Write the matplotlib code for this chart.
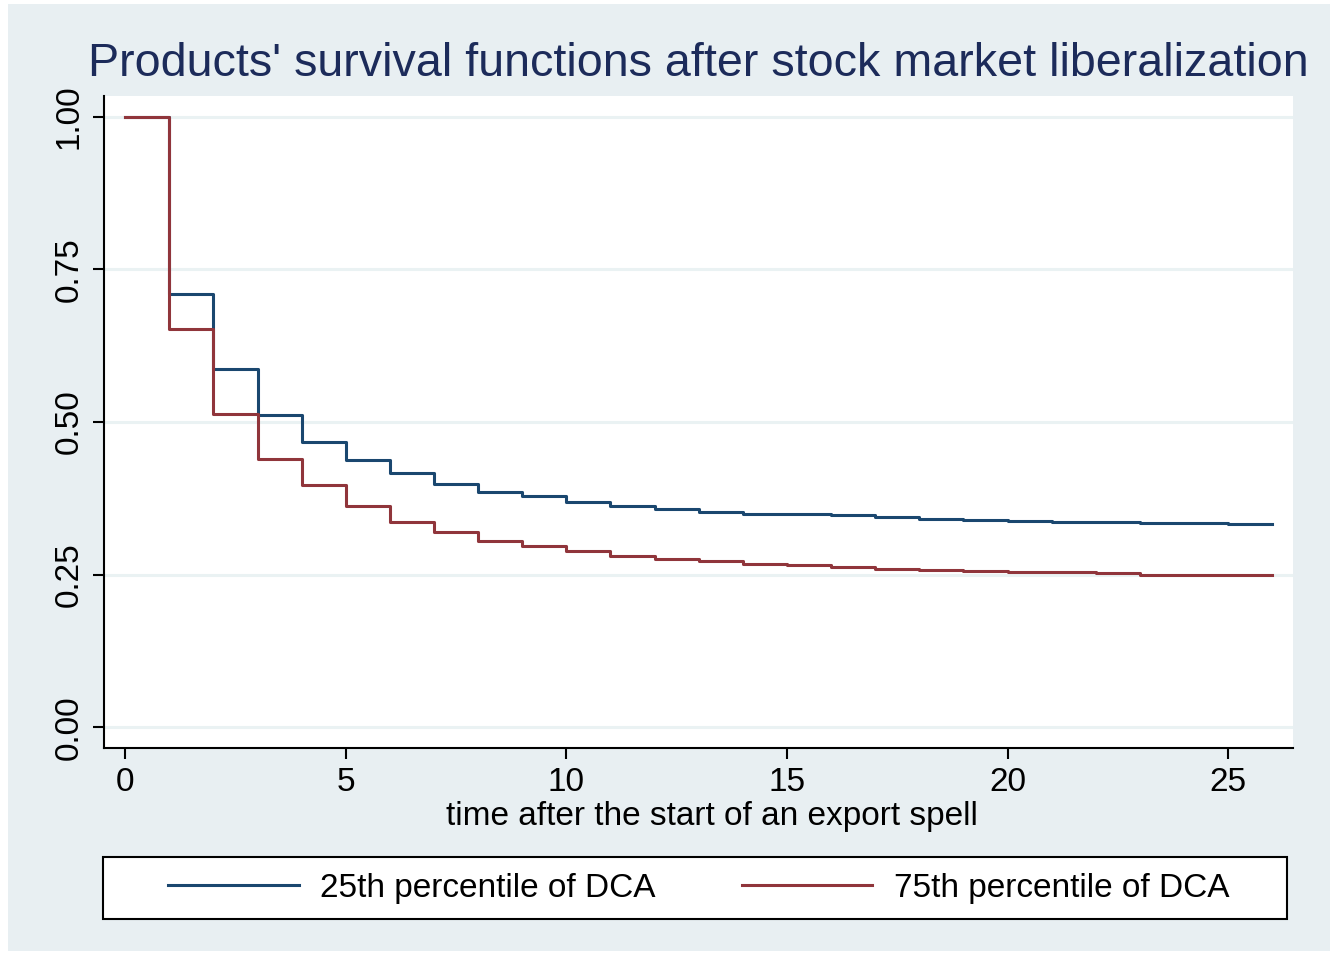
import numpy as np
import matplotlib
matplotlib.use('Agg')
import matplotlib.pyplot as plt
from matplotlib.patches import Rectangle

plt.rcParams['font.family'] = ['Liberation Sans', 'DejaVu Sans']

# time after start of spell (step at each integer)
times = list(range(0, 27))

# survival estimates for interval [t, t+1)
surv_p25 = [1.0, 0.709, 0.587, 0.512, 0.468, 0.437, 0.416, 0.399, 0.386, 0.378,
            0.369, 0.362, 0.358, 0.353, 0.350, 0.349, 0.3475, 0.345, 0.341, 0.339,
            0.338, 0.337, 0.336, 0.335, 0.335, 0.333]
surv_p75 = [1.0, 0.653, 0.513, 0.440, 0.397, 0.362, 0.337, 0.319, 0.305, 0.297,
            0.289, 0.281, 0.276, 0.272, 0.267, 0.265, 0.262, 0.260, 0.258, 0.256,
            0.255, 0.254, 0.252, 0.250, 0.249, 0.249]

labels = ['25th percentile of DCA', '75th percentile of DCA']
colors = ['#1a476f', '#90353b']

xticks = [0, 5, 10, 15, 20, 25]
yticks = [0.0, 0.25, 0.5, 0.75, 1.0]
ytick_labels = ['0.00', '0.25', '0.50', '0.75', '1.00']

W, H = 1338, 959
fig = plt.figure(figsize=(W / 100, H / 100), dpi=100)
fig.patch.set_facecolor('white')
# light background panel inside thin white border
fig.patches.append(Rectangle((8 / W, 8 / H), 1 - 16 / W, 1 - 12 / H,
                             transform=fig.transFigure, facecolor='#e8eff2',
                             edgecolor='none', zorder=-10))

ax = fig.add_axes([104 / W, 1 - 748 / H, (1293 - 104) / W, (748 - 96) / H])
ax.set_facecolor('white')

for s, c, lab in zip([surv_p25, surv_p75], colors, labels):
    ax.plot(times, s + [s[-1]], drawstyle='steps-post', color=c, lw=2.2, label=lab)

ax.set_xlim(-0.48, 26.47)
ax.set_ylim(-0.034, 1.034)
ax.set_xticks(xticks)
ax.set_yticks(yticks)
ax.set_yticklabels(ytick_labels, rotation=90, va='center')
ax.grid(axis='y', color='#eaf2f3', lw=2.2)
ax.set_axisbelow(True)
for side in ['top', 'right']:
    ax.spines[side].set_visible(False)
for side in ['left', 'bottom']:
    ax.spines[side].set_linewidth(1.5)
ax.tick_params(axis='both', length=8, width=1.5, labelsize=24, pad=6)

ax.set_xlabel('time after the start of an export spell', fontsize=24)
ax.xaxis.set_label_coords((712 - 104) / (1293 - 104), -(816 - 748) / (748 - 96))
ax.xaxis.label.set_va('center')

fig.text(698 / W, 1 - 64 / H, "Products' survival functions after stock market liberalization",
         ha='center', va='center', fontsize=33.6, color='#1c2b5a')

# legend box drawn separately so its width matches the plot
fig.patches.append(Rectangle((103 / W, 1 - 919 / H), (1287 - 103) / W, 62 / H,
                             transform=fig.transFigure, facecolor='white',
                             edgecolor='black', lw=1.5, zorder=1))
leg = fig.legend(loc='center', ncol=2,
                 bbox_to_anchor=(699 / W, 1 - 888 / H),
                 fontsize=24, handlelength=3.9, frameon=False,
                 columnspacing=2.6, handletextpad=0.65, borderaxespad=0)
leg.set_zorder(2)
for line in leg.get_lines():
    line.set_linewidth(2.2)

fig.savefig('out.png', dpi=100)
